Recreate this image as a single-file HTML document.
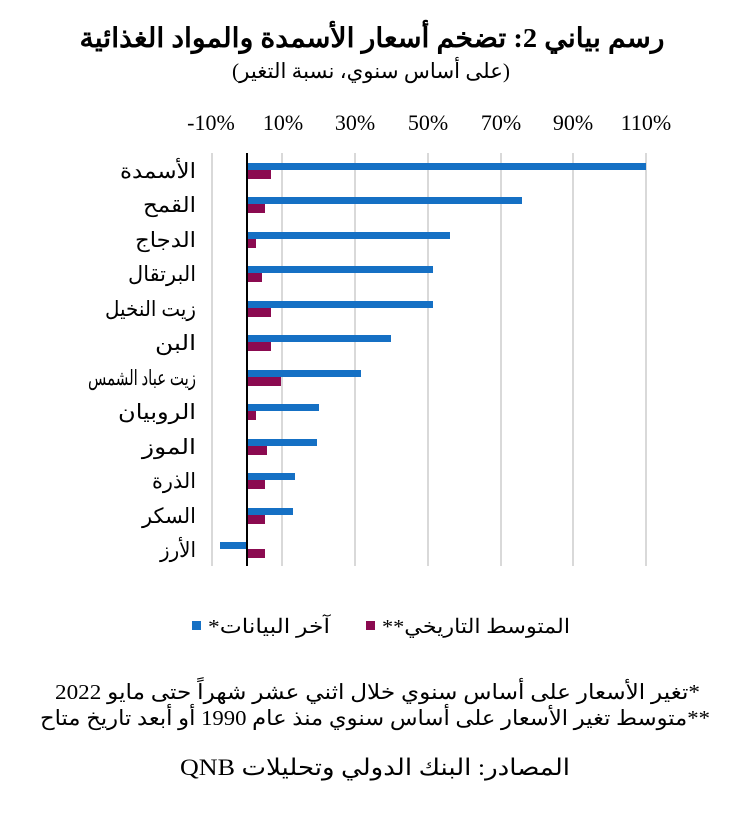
<!DOCTYPE html>
<html><head><meta charset="utf-8"><style>
body{margin:0;background:#fff;}
svg text{font-family:"Liberation Serif","DejaVu Serif",serif;fill:#000;}
</style></head><body>
<svg width="741" height="813" xmlns="http://www.w3.org/2000/svg">
<text x="372" y="47" font-size="27" font-weight="bold" text-anchor="middle" direction="rtl" textLength="585" lengthAdjust="spacingAndGlyphs">رسم بياني 2: تضخم أسعار الأسمدة والمواد الغذائية</text>
<text x="371" y="78" font-size="21" text-anchor="middle" direction="rtl" textLength="278" lengthAdjust="spacingAndGlyphs">(على أساس سنوي، نسبة التغير)</text>
<g font-size="22" text-anchor="middle">
<text x="211" y="130">-10%</text><text x="283" y="130">10%</text><text x="355" y="130">30%</text><text x="428" y="130">50%</text><text x="501" y="130">70%</text><text x="573" y="130">90%</text><text x="646" y="130">110%</text>
</g>
<g stroke="#d9d9d9" stroke-width="2">
<line x1="212" y1="153" x2="212" y2="566"/><line x1="282" y1="153" x2="282" y2="566"/><line x1="355" y1="153" x2="355" y2="566"/><line x1="428" y1="153" x2="428" y2="566"/><line x1="501" y1="153" x2="501" y2="566"/><line x1="573" y1="153" x2="573" y2="566"/><line x1="646" y1="153" x2="646" y2="566"/>
</g>
<g fill="#1570c4">
<rect x="247" y="163" width="399" height="7"/>
<rect x="247" y="197" width="275" height="7"/>
<rect x="247" y="232" width="203" height="7"/>
<rect x="247" y="266" width="186" height="7"/>
<rect x="247" y="301" width="186" height="7"/>
<rect x="247" y="335" width="144" height="7"/>
<rect x="247" y="370" width="114" height="7"/>
<rect x="247" y="404" width="72" height="7"/>
<rect x="247" y="439" width="70" height="7"/>
<rect x="247" y="473" width="48" height="7"/>
<rect x="247" y="508" width="46" height="7"/>
<rect x="220" y="542" width="27" height="7"/>
</g>
<g fill="#8b0a50">
<rect x="247" y="170" width="24" height="9"/>
<rect x="247" y="204" width="18" height="9"/>
<rect x="247" y="239" width="9" height="9"/>
<rect x="247" y="273" width="15" height="9"/>
<rect x="247" y="308" width="24" height="9"/>
<rect x="247" y="342" width="24" height="9"/>
<rect x="247" y="377" width="34" height="9"/>
<rect x="247" y="411" width="9" height="9"/>
<rect x="247" y="446" width="20" height="9"/>
<rect x="247" y="480" width="18" height="9"/>
<rect x="247" y="515" width="18" height="9"/>
<rect x="247" y="549" width="18" height="9"/>
</g>
<line x1="247" y1="153" x2="247" y2="566" stroke="#000" stroke-width="2"/>
<g font-size="21" text-anchor="start" direction="rtl" lengthAdjust="spacingAndGlyphs">
<text x="196" y="178" textLength="76" lengthAdjust="spacingAndGlyphs">الأسمدة</text>
<text x="196" y="212" textLength="53" lengthAdjust="spacingAndGlyphs">القمح</text>
<text x="196" y="247" textLength="61" lengthAdjust="spacingAndGlyphs">الدجاج</text>
<text x="196" y="281" textLength="68" lengthAdjust="spacingAndGlyphs">البرتقال</text>
<text x="196" y="316" textLength="91" lengthAdjust="spacingAndGlyphs">زيت النخيل</text>
<text x="196" y="350" textLength="41" lengthAdjust="spacingAndGlyphs">البن</text>
<text x="196" y="385" textLength="108" lengthAdjust="spacingAndGlyphs">زيت عباد الشمس</text>
<text x="196" y="419" textLength="78" lengthAdjust="spacingAndGlyphs">الروبيان</text>
<text x="196" y="454" textLength="54" lengthAdjust="spacingAndGlyphs">الموز</text>
<text x="196" y="488" textLength="44" lengthAdjust="spacingAndGlyphs">الذرة</text>
<text x="196" y="523" textLength="54" lengthAdjust="spacingAndGlyphs">السكر</text>
<text x="196" y="557" textLength="36" lengthAdjust="spacingAndGlyphs">الأرز</text>
</g>
<rect x="192" y="621" width="9" height="9" fill="#1570c4"/>
<text x="330" y="633" font-size="20" text-anchor="start" direction="rtl" textLength="122" lengthAdjust="spacingAndGlyphs">آخر البيانات*</text>
<rect x="366" y="621" width="9" height="9" fill="#8b0a50"/>
<text x="570" y="633" font-size="20" text-anchor="start" direction="rtl" textLength="188" lengthAdjust="spacingAndGlyphs">المتوسط التاريخي**</text>
<text x="700" y="699" font-size="21" text-anchor="start" direction="rtl" textLength="645" lengthAdjust="spacingAndGlyphs">*تغير الأسعار على أساس سنوي خلال اثني عشر شهراً حتى مايو 2022</text>
<text x="710" y="725" font-size="21" text-anchor="start" direction="rtl" textLength="670" lengthAdjust="spacingAndGlyphs">**متوسط تغير الأسعار على أساس سنوي منذ عام 1990 أو أبعد تاريخ متاح</text>
<text x="375" y="775" font-size="23" text-anchor="middle" direction="rtl" textLength="390" lengthAdjust="spacingAndGlyphs">المصادر: البنك الدولي وتحليلات QNB</text>
</svg>
</body></html>
